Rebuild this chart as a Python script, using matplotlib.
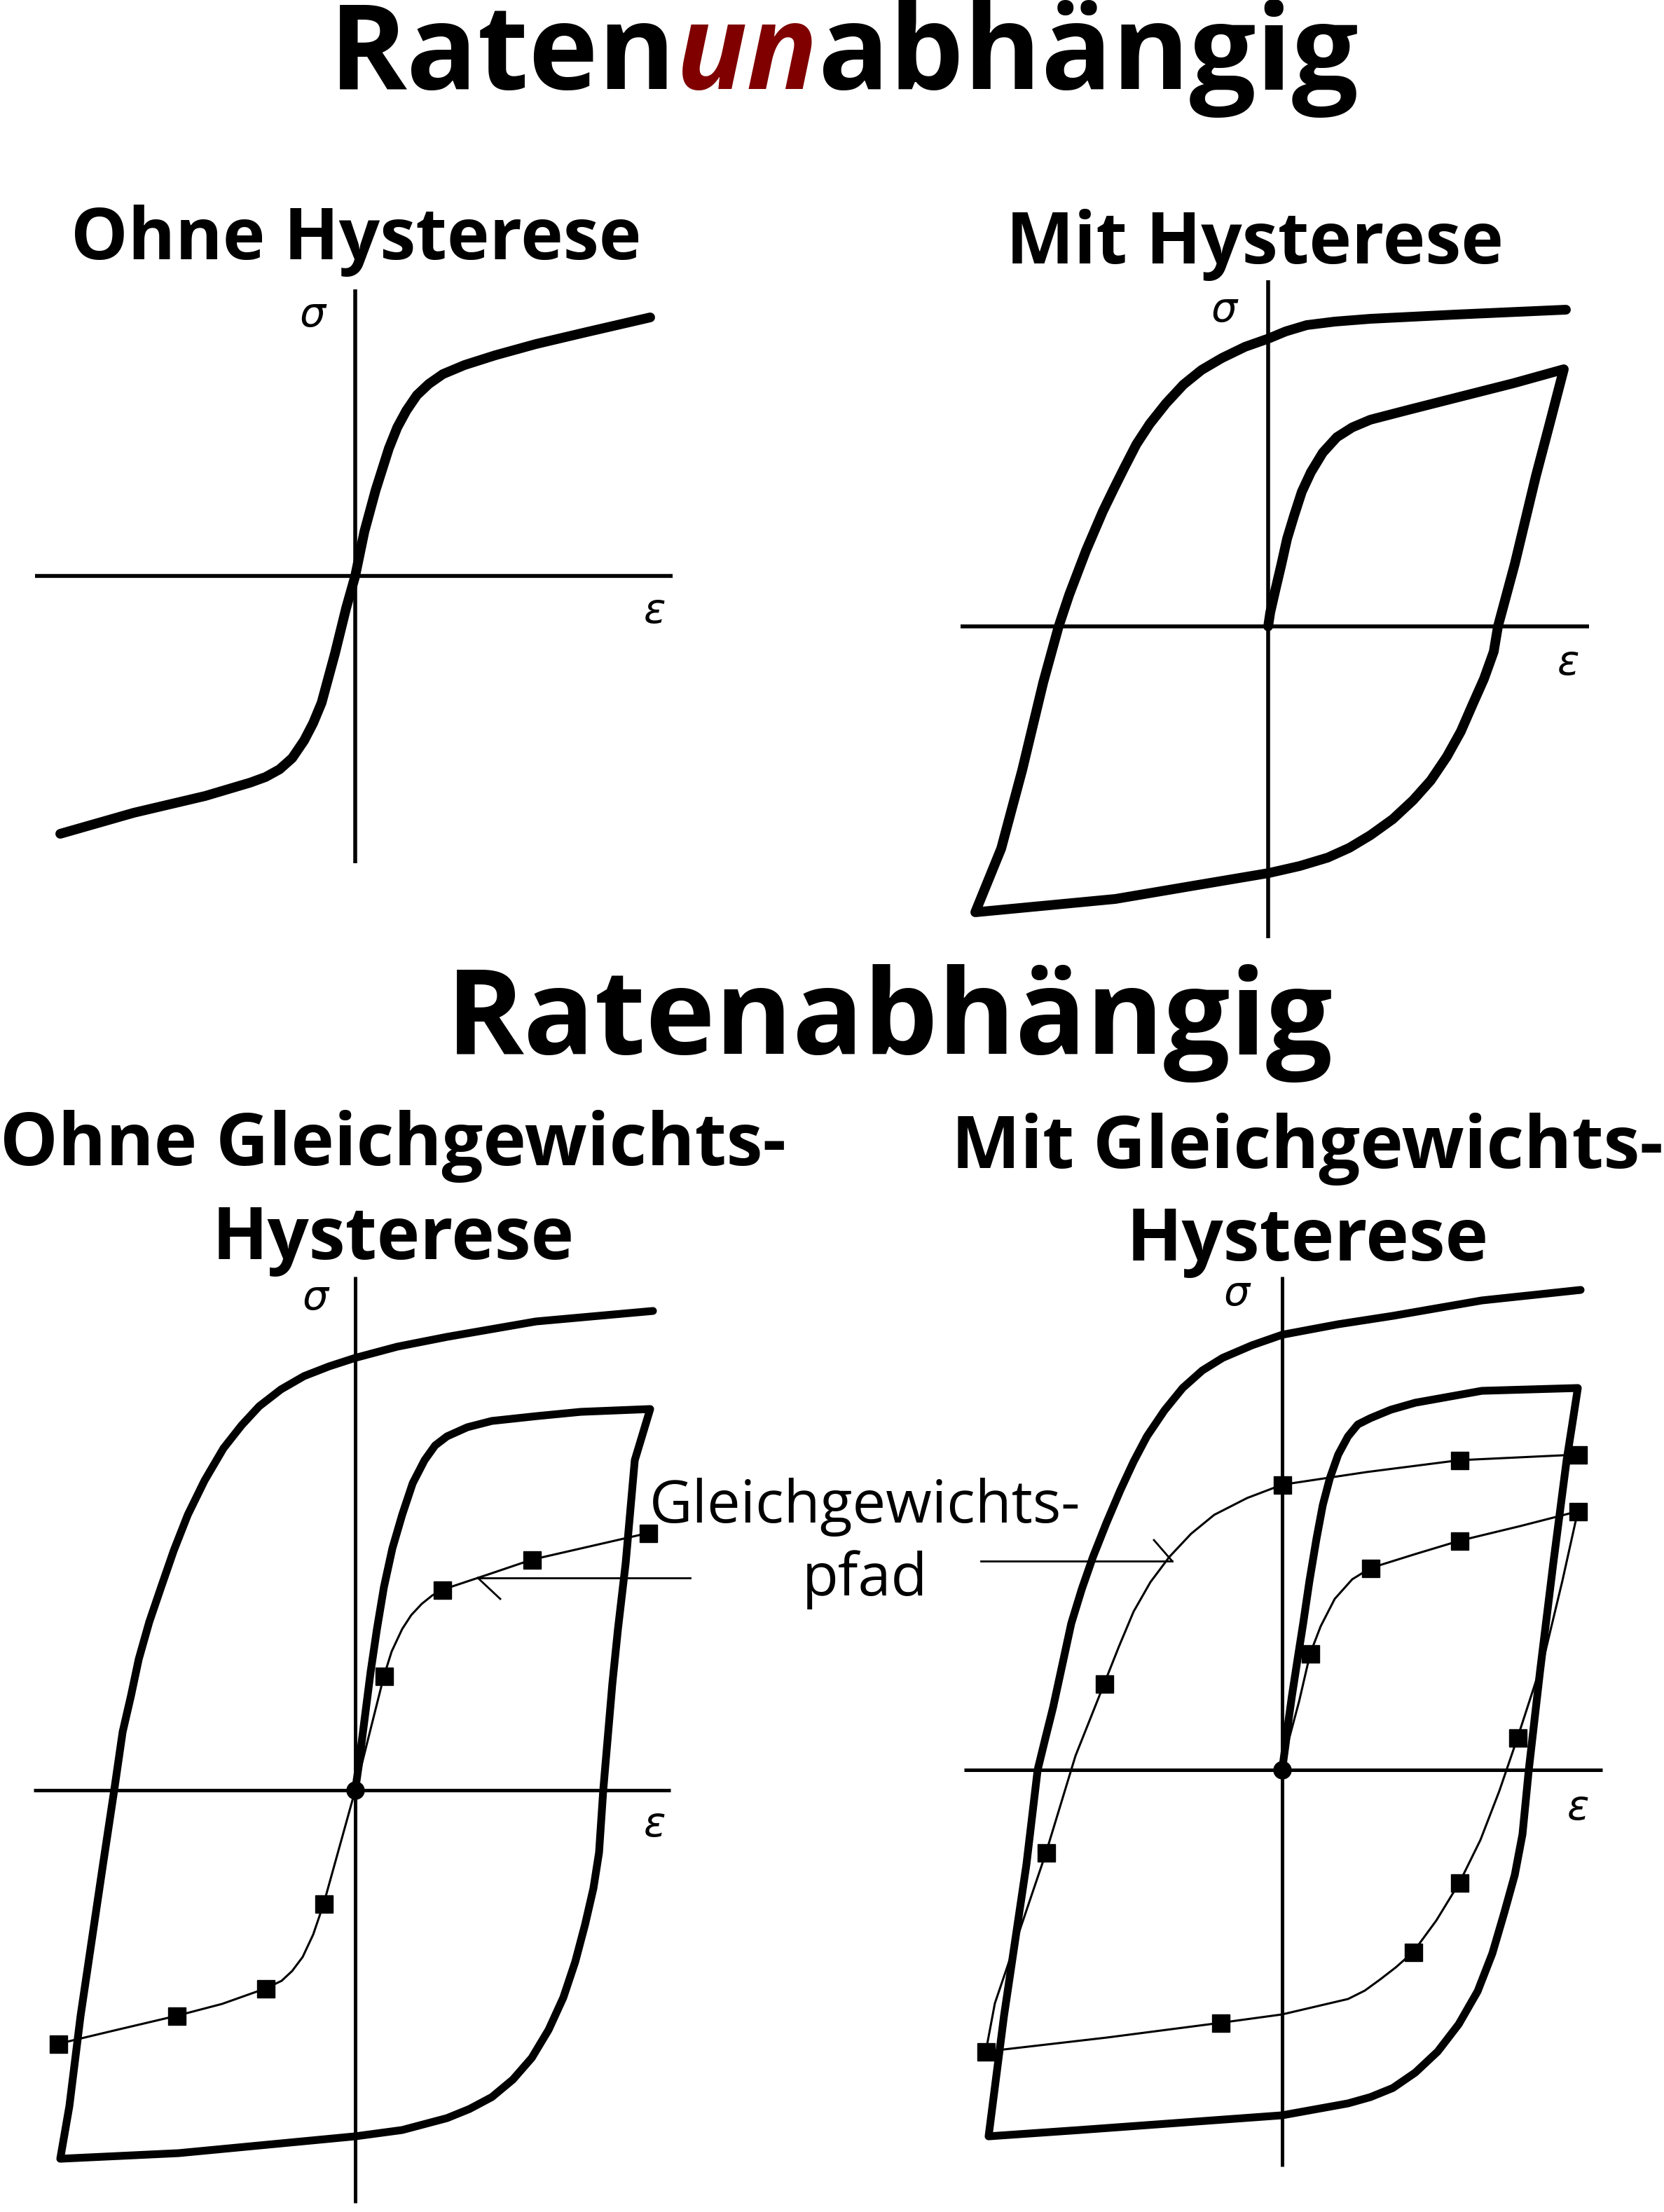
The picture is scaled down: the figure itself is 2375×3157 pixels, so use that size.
"""Stress-strain sketches: rate-independent vs rate-dependent hysteresis."""
import matplotlib
matplotlib.use("Agg")
import matplotlib.pyplot as plt

W, H = 2375, 3157
DARK_RED = "#800000"
plt.rcParams["font.family"] = ["Open Sans", "Noto Sans", "DejaVu Sans"]

# ---- curve data (strain eps, stress sigma; arbitrary units) ----
# Panel 1: rate independent, no hysteresis
p1_eps = [-4.21, -3.16, -2.14, -1.50, -1.28, -1.08, -0.90, -0.73, -0.60, -0.48, -0.29, -0.13, 0.0,
          0.13, 0.29, 0.48, 0.60, 0.73, 0.88, 1.05, 1.25, 1.56, 2.00, 2.58, 3.30, 4.21]
p1_sig = [-3.68, -3.38, -3.14, -2.95, -2.87, -2.76, -2.60, -2.35, -2.10, -1.81, -1.11, -0.46, 0.0,
          0.63, 1.22, 1.82, 2.12, 2.36, 2.58, 2.74, 2.88, 3.01, 3.15, 3.31, 3.48, 3.69]

# Panel 2: rate independent, with hysteresis (virgin curve -> loop -> upper branch)
p2_eps = [0.0, 0.03, 0.11, 0.19, 0.27, 0.37, 0.48, 0.61, 0.78, 0.98, 1.20, 1.46, 2.00, 2.67, 3.50, 4.22,
          4.02, 3.82, 3.52, 3.28, 3.22, 3.08, 2.92, 2.75, 2.55, 2.32, 2.07, 1.78, 1.46, 1.16, 0.85,
          0.45, 0.01, -1.00, -2.18, -4.18,
          -3.81, -3.51, -3.21, -2.99, -2.84, -2.60, -2.36, -2.20, -2.05, -1.88, -1.69, -1.46, -1.21,
          -0.95, -0.66, -0.33, 0.01, 0.25, 0.55, 0.95, 1.46, 2.67, 4.25]
p2_sig = [0.0, 0.20, 0.55, 0.89, 1.25, 1.58, 1.92, 2.20, 2.48, 2.70, 2.84, 2.95, 3.09, 3.26, 3.47, 3.67,
          2.90, 2.14, 0.89, 0.0, -0.36, -0.75, -1.11, -1.50, -1.86, -2.20, -2.48, -2.75, -2.98, -3.16, -3.30,
          -3.42, -3.52, -3.69, -3.89, -4.08,
          -3.17, -2.05, -0.80, 0.0, 0.45, 1.08, 1.64, 1.97, 2.27, 2.60, 2.89, 3.18, 3.45,
          3.66, 3.83, 3.99, 4.11, 4.21, 4.30, 4.35, 4.39, 4.45, 4.52]

# Panel 3: rate dependent, no equilibrium hysteresis
p3_eps = [0.0, 0.05, 0.10, 0.16, 0.22, 0.31, 0.41, 0.53, 0.67, 0.82, 0.99, 1.14, 1.31, 1.60, 1.95, 2.60, 3.22, 4.21,
          3.99, 3.86, 3.75, 3.67, 3.54, 3.48, 3.40, 3.28, 3.14, 2.97, 2.76, 2.52, 2.25, 1.95, 1.63, 1.31,
          0.67, 0.0, -2.52, -4.21,
          -4.08, -3.92, -3.60, -3.44, -3.32, -3.20, -3.09, -2.94, -2.77, -2.59, -2.39, -2.15, -1.88,
          -1.62, -1.37, -1.06, -0.73, -0.37, 0.0, 0.60, 1.31, 2.58, 4.25]
p3_sig = [0.0, 0.35, 0.75, 1.22, 1.69, 2.30, 2.90, 3.45, 3.93, 4.38, 4.71, 4.92, 5.05, 5.18, 5.27, 5.34, 5.40, 5.44,
          4.71, 3.24, 2.30, 1.52, 0.0, -0.89, -1.40, -1.92, -2.45, -2.96, -3.42, -3.82, -4.13, -4.38, -4.55, -4.68,
          -4.85, -4.94, -5.18, -5.26,
          -4.51, -3.22, -1.06, 0.0, 0.83, 1.35, 1.87, 2.40, 2.90, 3.42, 3.93, 4.42, 4.88,
          5.21, 5.48, 5.72, 5.91, 6.05, 6.17, 6.33, 6.47, 6.69, 6.84]
p3_eq_eps = [-4.24, -3.40, -2.55, -1.90, -1.28, -1.05, -0.90, -0.75, -0.60, -0.45, 0.0,
             0.41, 0.52, 0.67, 0.80, 0.95, 1.10, 1.24, 1.90, 2.52, 3.35, 4.18]
p3_eq_sig = [-3.62, -3.42, -3.22, -3.05, -2.83, -2.72, -2.58, -2.38, -2.06, -1.62, 0.0,
             1.63, 1.98, 2.30, 2.50, 2.66, 2.78, 2.86, 3.08, 3.29, 3.48, 3.67]
p3_mark_eps = [-4.24, -2.55, -1.28, -0.45, 0.41, 1.24, 2.52, 4.18]
p3_mark_sig = [-3.62, -3.22, -2.83, -1.62, 1.63, 2.86, 3.29, 3.67]

# Panel 4: rate dependent, with equilibrium hysteresis
p4_eps = [0.0, 0.05, 0.09, 0.14, 0.22, 0.30, 0.39, 0.49, 0.58, 0.68, 0.80, 0.94, 1.08, 1.26, 1.55, 1.90, 2.85, 4.22,
          4.14, 4.06, 3.87, 3.68, 3.52, 3.43, 3.32, 3.17, 3.00, 2.79, 2.52, 2.22, 1.90, 1.58, 1.26, 0.94,
          0.0, -2.89, -4.19,
          -3.97, -3.65, -3.49, -3.38, -3.27, -3.01, -2.86, -2.70, -2.51, -2.31, -2.12, -1.93, -1.68,
          -1.42, -1.14, -0.85, -0.43, 0.0, 0.80, 1.58, 2.85, 4.26]
p4_sig = [0.0, 0.37, 0.70, 1.06, 1.58, 2.09, 2.70, 3.30, 3.78, 4.16, 4.50, 4.76, 4.93, 5.02, 5.14, 5.24, 5.41, 5.45,
          4.93, 4.42, 2.95, 1.40, 0.0, -0.92, -1.50, -2.04, -2.62, -3.16, -3.63, -4.02, -4.32, -4.54, -4.67, -4.76,
          -4.93, -5.14, -5.23,
          -3.51, -1.35, 0.0, 0.45, 0.89, 2.09, 2.58, 3.04, 3.52, 3.99, 4.40, 4.76, 5.13,
          5.45, 5.70, 5.88, 6.06, 6.21, 6.36, 6.48, 6.70, 6.85]
p4_eq_eps = [0.0, 0.10, 0.24, 0.40, 0.55, 0.75, 1.00, 1.26, 1.90, 2.53, 3.40, 4.22,
             4.00, 3.75, 3.36, 3.10, 2.83, 2.53, 2.20, 1.87, 1.62, 1.40, 1.18, 0.94, 0.0, -0.88, -2.50, -4.23,
             -4.10, -3.78, -3.37, -2.95, -2.54, -2.33, -2.12, -1.88, -1.61, -1.30, -0.97, -0.50, 0.0,
             1.20, 2.53, 4.22]
p4_eq_sig = [0.0, 0.45, 0.97, 1.66, 2.05, 2.44, 2.72, 2.88, 3.08, 3.27, 3.48, 3.69,
             2.70, 1.66, 0.46, -0.30, -1.00, -1.61, -2.15, -2.60, -2.82, -2.99, -3.15, -3.27, -3.49, -3.61, -3.82, -4.02,
             -3.33, -2.39, -1.18, 0.20, 1.23, 1.76, 2.26, 2.68, 3.04, 3.37, 3.64, 3.88, 4.07,
             4.25, 4.42, 4.50]
p4_mark_eps = [0.40, 1.26, 2.53, 4.22, 3.36, 2.53, 1.87, -0.88, -4.23, -3.37, -2.54, 0.0, 2.53, 4.22]
p4_mark_sig = [1.66, 2.88, 3.27, 3.69, 0.46, -1.61, -2.60, -3.61, -4.02, -1.18, 1.23, 4.07, 4.42, 4.50]

fig = plt.figure(figsize=(W / 100, H / 100), dpi=100)
fig.patch.set_facecolor("white")


def panel(ox, oy, left, right, top, bottom):
    """Axes whose origin sits at pixel (ox, oy); one data unit = 100 px."""
    ax = fig.add_axes([left / W, 1 - bottom / H, (right - left) / W, (bottom - top) / H])
    ax.set_xlim((left - ox) / 100, (right - ox) / 100)
    ax.set_ylim((oy - bottom) / 100, (oy - top) / 100)
    ax.axis("off")
    return ax


def cross(ax, xr, yr, lw=4.0):
    ax.plot(xr, [0, 0], color="black", lw=lw, solid_capstyle="butt", zorder=1)
    ax.plot([0, 0], yr, color="black", lw=lw, solid_capstyle="butt", zorder=1)


def labels(ax, sig_xy, eps_xy):
    kw = dict(fontsize=42, style="italic", family="DejaVu Sans", ha="center", va="center")
    ax.text(*sig_xy, "σ", **kw)
    ax.text(*eps_xy, "ε", **kw)


thick = dict(color="black", solid_capstyle="round", solid_joinstyle="round", zorder=2)
thin = dict(color="black", lw=2.2, solid_joinstyle="round", zorder=3)
marks = dict(ls="none", marker="s", ms=18, color="black", zorder=4)

# panel 1
ax1 = panel(507, 822, 0, 1180, 390, 1300)
cross(ax1, [-4.57, 4.53], [-4.10, 4.09])
ax1.plot(p1_eps, p1_sig, lw=10, **thick)
labels(ax1, (-0.61, 3.72), (4.27, -0.51))

# panel 2
ax2 = panel(1810, 894, 1190, 2375, 390, 1380)
cross(ax2, [-4.39, 4.58], [-4.45, 4.94])
ax2.plot(p2_eps, p2_sig, lw=10, **thick)
labels(ax2, (-0.63, 4.52), (4.28, -0.52))

# panel 3
ax3 = panel(507, 2555, 0, 1180, 1810, 3157)
cross(ax3, [-4.59, 4.50], [-5.89, 7.33], lw=3.6)
ax3.plot(p3_eps, p3_sig, lw=8, **thick)
ax3.plot(p3_eq_eps, p3_eq_sig, **thin)
ax3.plot(p3_mark_eps, p3_mark_sig, **marks)
ax3.plot([0], [0], ls="none", marker="o", ms=18, color="black", zorder=4)
ax3.plot([1.75, 4.78], [3.03, 3.03], color="black", lw=2.0, zorder=3)
ax3.plot([1.75, 2.07], [3.03, 2.73], color="black", lw=2.0, zorder=3)
labels(ax3, (-0.57, 7.02), (4.27, -0.50))

# panel 4
ax4 = panel(1830, 2526, 1190, 2375, 1810, 3157)
cross(ax4, [-4.54, 4.57], [-5.66, 7.04], lw=3.6)
ax4.plot(p4_eps, p4_sig, lw=8, **thick)
ax4.plot(p4_eq_eps, p4_eq_sig, **thin)
ax4.plot(p4_mark_eps, p4_mark_sig, **marks)
ax4.plot([0], [0], ls="none", marker="o", ms=18, color="black", zorder=4)
ax4.plot([-4.30, -1.57], [2.98, 2.98], color="black", lw=2.0, zorder=3)
ax4.plot([-1.83, -1.57], [3.28, 2.98], color="black", lw=2.0, zorder=3)
labels(ax4, (-0.65, 6.79), (4.22, -0.54))

# ---- headings ----
def ftext(x, y, s, **kw):
    return fig.text(x / W, 1 - y / H, s, **kw)


bold = dict(fontweight="bold", va="baseline")
renderer = fig.canvas.get_renderer()
x = 470
for part, extra in [("Raten", {}), ("un", dict(color=DARK_RED, style="italic")), ("abhängig", {})]:
    t = ftext(x, 127, part, fontsize=121, ha="left", **bold, **extra)
    x += t.get_window_extent(renderer).width

ftext(508, 370, "Ohne Hysterese", fontsize=74, ha="center", **bold)
ftext(1791, 376, "Mit Hysterese", fontsize=74, ha="center", **bold)
ftext(1270, 1504, "Ratenabhängig", fontsize=121, ha="center", **bold)
ftext(561, 1663, "Ohne Gleichgewichts-", fontsize=75, ha="center", **bold)
ftext(561, 1797, "Hysterese", fontsize=75, ha="center", **bold)
ftext(1866, 1667, "Mit Gleichgewichts-", fontsize=75, ha="center", **bold)
ftext(1866, 1799, "Hysterese", fontsize=75, ha="center", **bold)
ftext(1235, 2173, "Gleichgewichts-", fontsize=61, ha="center", va="baseline")
ftext(1234, 2277, "pfad", fontsize=61, ha="center", va="baseline")

fig.savefig("out.png", dpi=100, facecolor="white")
